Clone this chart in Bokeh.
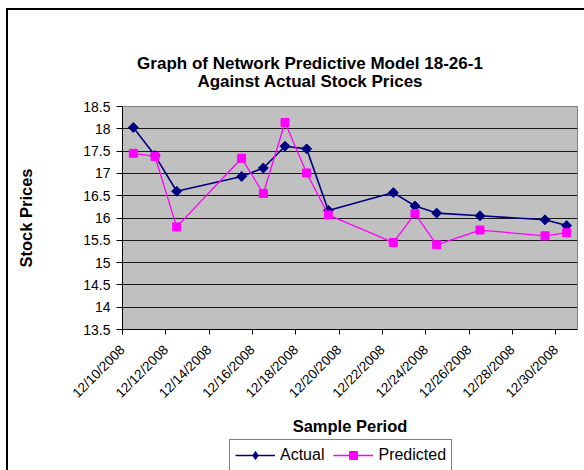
import math
import pandas as pd
from bokeh.plotting import figure
from bokeh.layouts import column
from bokeh.models import (FixedTicker, DatetimeTickFormatter, Legend, LegendItem, Div)
from bokeh.embed import file_html
from bokeh.resources import INLINE

# ---- data ----
dates = ["2008-12-10", "2008-12-11", "2008-12-12", "2008-12-15", "2008-12-16",
         "2008-12-17", "2008-12-18", "2008-12-19", "2008-12-22", "2008-12-23",
         "2008-12-24", "2008-12-26", "2008-12-29", "2008-12-30"]
actual = [18.03, 17.40, 16.60, 16.93, 17.12, 17.61, 17.55, 16.17, 16.57, 16.27,
          16.11, 16.05, 15.96, 15.83]
predicted = [17.45, 17.38, 15.80, 17.34, 16.55, 18.14, 17.01, 16.07, 15.45, 16.10,
             15.40, 15.73, 15.60, 15.67]
tick_dates = ["2008-12-10", "2008-12-12", "2008-12-14", "2008-12-16", "2008-12-18",
              "2008-12-20", "2008-12-22", "2008-12-24", "2008-12-26", "2008-12-28",
              "2008-12-30"]
title_lines = ["Graph of Network Predictive Model 18-26-1", "Against Actual Stock Prices"]
x_title = "Sample Period"
y_title = "Stock Prices"
series_names = ["Actual", "Predicted"]
y_ticks = [13.5, 14, 14.5, 15, 15.5, 16, 16.5, 17, 17.5, 18, 18.5]

# points sit in the middle of each day slot (Excel date axis)
xs = pd.to_datetime(dates) + pd.Timedelta(hours=12)
x_start = pd.Timestamp("2008-12-10")
x_end = pd.Timestamp("2008-12-31")

FONT = "Liberation Sans"
NAVY = "#000080"
MAGENTA = "#FF00FF"

# ---- title block ----
title_html = ('<div style="width:548px; margin-left:28px; text-align:center;'
              ' font-family:\'Liberation Sans\'; font-weight:bold; font-size:17px;'
              ' line-height:18px; color:black; padding-top:45px;">'
              + title_lines[0] + '<br>' + title_lines[1] + '</div>')
title_div = Div(text=title_html, width=576, height=82, margin=0)

# ---- plot ----
p = figure(frame_width=455, frame_height=223, output_backend="svg",
           toolbar_location=None, x_axis_type="datetime",
           x_range=(x_start, x_end), y_range=(13.5, 18.5),
           min_border_left=114, min_border_right=7, min_border_top=14,
           min_border_bottom=109, background_fill_color="#C0C0C0",
           border_fill_color="white", margin=0)
p.title.visible = False
p.outline_line_color = "#808080"

# grid
p.xgrid.visible = False
p.ygrid.grid_line_color = "#1a1a1a"
p.ygrid.grid_line_width = 1
p.ygrid.ticker = FixedTicker(ticks=y_ticks)

# y axis
p.yaxis.ticker = FixedTicker(ticks=y_ticks)
p.yaxis.axis_label = y_title
p.yaxis.axis_label_text_font = FONT
p.yaxis.axis_label_text_font_style = "bold"
p.yaxis.axis_label_text_font_size = "16.5px"
p.yaxis.axis_label_text_color = "black"
p.yaxis.axis_label_standoff = 45
p.yaxis.major_label_text_font = FONT
p.yaxis.major_label_text_font_size = "14px"
p.yaxis.major_label_text_color = "black"
p.yaxis.major_tick_out = 6
p.yaxis.major_tick_in = 0
p.yaxis.minor_tick_out = 0
p.yaxis.minor_tick_in = 0
p.yaxis.major_label_standoff = 6
p.yaxis.axis_line_color = "black"

# x axis
p.xaxis.ticker = FixedTicker(ticks=[pd.Timestamp(d).value / 1e6 for d in tick_dates])
p.xaxis.formatter = DatetimeTickFormatter(days="%m/%d/%Y", months="%m/%d/%Y",
                                          hours="%m/%d/%Y", years="%m/%d/%Y",
                                          context=None)
p.xaxis.major_label_orientation = math.pi / 4
p.xaxis.major_label_text_font = FONT
p.xaxis.major_label_text_font_size = "13.5px"
p.xaxis.major_label_text_color = "black"
p.xaxis.major_tick_out = 5
p.xaxis.major_tick_in = 0
p.xaxis.minor_tick_out = 0
p.xaxis.minor_tick_in = 0
p.xaxis.major_label_standoff = 13
p.xaxis.axis_line_color = "black"
p.xaxis.axis_label = x_title
p.xaxis.axis_label_text_font = FONT
p.xaxis.axis_label_text_font_style = "bold"
p.xaxis.axis_label_text_font_size = "16.5px"
p.xaxis.axis_label_text_color = "black"
p.xaxis.axis_label_standoff = 8

# series
p.line(xs, actual, line_color=NAVY, line_width=1.6)
p.scatter(xs, actual, marker="square", angle=math.pi / 4, size=7,
          fill_color=NAVY, line_color=NAVY, line_width=1)
p.line(xs, predicted, line_color=MAGENTA, line_width=1.3)
p.scatter(xs, predicted, marker="square", size=8, fill_color=MAGENTA,
          line_color=MAGENTA)

# ---- legend strip (own small canvas below the chart) ----
nan = [float("nan")]  # legend-only renderers (no visible data)
lg = figure(width=469, height=31, output_backend="svg", toolbar_location=None,
            x_axis_location=None, y_axis_location=None, min_border=0,
            x_range=(0, 1), y_range=(0, 1), margin=(1, 0, 0, 107),
            border_fill_color="white", background_fill_color="white")
lg.title.visible = False
lg.grid.visible = False
lg.outline_line_color = None
la = lg.line(nan, nan, line_color=NAVY, line_width=1.4)
sa = lg.scatter(nan, nan, marker="diamond", fill_color=NAVY, line_color=NAVY)
lp = lg.line(nan, nan, line_color=MAGENTA, line_width=1.4)
sp = lg.scatter(nan, nan, marker="square", fill_color=MAGENTA, line_color=MAGENTA)
legend = Legend(items=[LegendItem(label=series_names[0], renderers=[la, sa]),
                       LegendItem(label=series_names[1], renderers=[lp, sp])],
                orientation="horizontal", location="top_left",
                label_text_font=FONT, label_text_font_size="16px",
                label_text_color="black", label_height=20,
                glyph_width=40, glyph_height=20, spacing=9, padding=5,
                label_standoff=5, border_line_color="black", border_line_width=1,
                background_fill_color="white", margin=0)
lg.add_layout(legend)

root = column(title_div, p, lg, margin=(8, 0, 0, 6), spacing=0,
              styles={"border-left": "2px solid black", "border-top": "2px solid black"})

open("out.html", "w").write(file_html(root, INLINE))
